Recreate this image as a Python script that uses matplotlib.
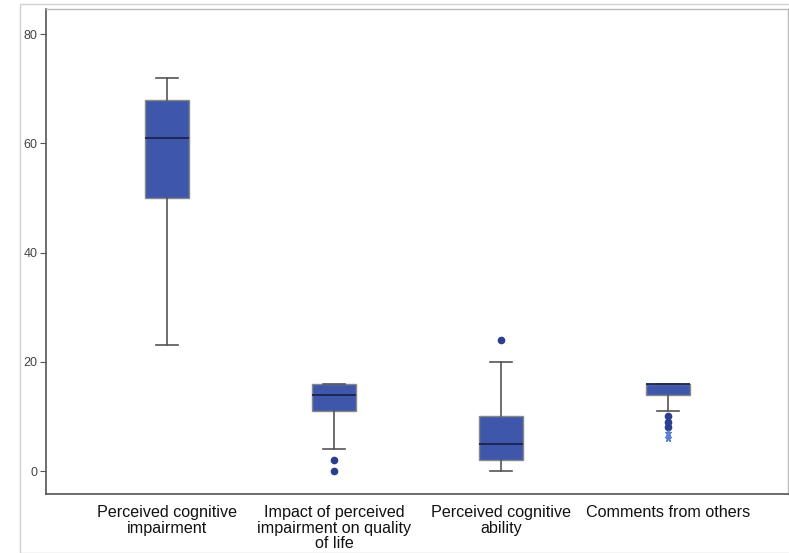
import matplotlib
matplotlib.use("Agg")
import matplotlib.pyplot as plt
from matplotlib.patches import Rectangle

plt.rcParams['font.family'] = ['Liberation Sans', 'DejaVu Sans']

categories = ["Perceived cognitive\nimpairment",
              "Impact of perceived\nimpairment on quality\nof life",
              "Perceived cognitive\nability",
              "Comments from others"]
whislo = [23, 4, 0, 11]
q1 = [50, 11, 2, 14]
med = [61, 14, 5, 16]
q3 = [68, 16, 10, 16]
whishi = [72, 16, 20, 16]
outliers_circle = [[], [2, 0], [24], [10, 9, 8]]
outliers_star = [[], [], [], [7, 6]]

fig = plt.figure(figsize=(7.89, 5.53), dpi=100)
ax = fig.add_axes([46/789, 1-494/553, (788-46)/789, (494-9)/553])

fig.patches.append(Rectangle((20/789, 0), 1, 1-3.5/553, transform=fig.transFigure,
                             fill=False, edgecolor='#d0d0d0', linewidth=1.0))

stats = []
for i in range(len(categories)):
    stats.append(dict(med=med[i], q1=q1[i], q3=q3[i], whislo=whislo[i],
                      whishi=whishi[i], fliers=[], label=categories[i]))

box_color = '#3E57AA'
positions = [1, 2, 3, 4]
ax.bxp(stats, positions=positions, widths=0.26, patch_artist=True,
       showfliers=False,
       boxprops=dict(facecolor=box_color, edgecolor='#888888', linewidth=1.0),
       medianprops=dict(color='#1a2350', linewidth=1.3),
       whiskerprops=dict(color='#555555', linewidth=1.2),
       capprops=dict(color='#555555', linewidth=1.2),
       capwidths=0.13)

for p, vals in zip(positions, outliers_circle):
    if vals:
        ax.plot([p]*len(vals), vals, 'o', color='#2c3f8f', markersize=4.5,
                markeredgecolor='#2c3f8f')
for p, vals in zip(positions, outliers_star):
    if vals:
        ax.plot([p]*len(vals), vals, '*', color='#5a7fd0', markersize=5,
                markeredgecolor='#5a7fd0')

ax.set_xlim(0.275, 4.72)
ax.set_ylim(-4.2, 84.6)
ax.set_yticks([0, 20, 40, 60, 80])
ax.tick_params(axis='y', labelsize=9, length=4, pad=2, color='#555555', labelcolor='#444444')
ax.tick_params(axis='x', length=0, labelsize=11.6, labelcolor='#111111', pad=8)
ax.set_xticks(positions)
ax.set_xticklabels(categories, linespacing=1.05)
for s in ['left', 'bottom']:
    ax.spines[s].set_color('#555555')
    ax.spines[s].set_linewidth(1.2)
for s in ['top', 'right']:
    ax.spines[s].set_color('#bbbbbb')
    ax.spines[s].set_linewidth(1.0)

fig.savefig("out.png", dpi=100)
